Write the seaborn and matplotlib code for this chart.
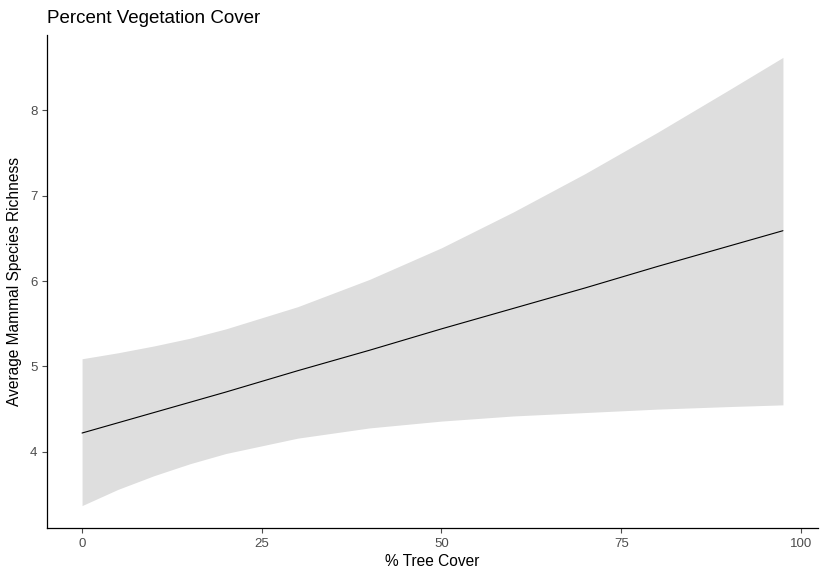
import numpy as np
import pandas as pd
import matplotlib
matplotlib.use("Agg")
import matplotlib.pyplot as plt
import seaborn as sns

# Fitted richness vs. tree cover with its confidence band
tree_cover = [0, 5, 10, 15, 20, 30, 40, 50, 60, 70, 80, 90, 97.5]
fit_richness = [4.22, 4.34, 4.46, 4.58, 4.70, 4.95, 5.19, 5.44, 5.68, 5.92, 6.17, 6.41, 6.59]
upper_ci = [5.09, 5.16, 5.24, 5.33, 5.44, 5.70, 6.02, 6.39, 6.81, 7.26, 7.74, 8.24, 8.62]
lower_ci = [3.37, 3.56, 3.72, 3.86, 3.98, 4.16, 4.28, 4.36, 4.42, 4.46, 4.50, 4.53, 4.55]

x_ticks = [0, 25, 50, 75, 100]
y_ticks = [4, 5, 6, 7, 8]

df = pd.DataFrame({"cover": tree_cover, "fit": fit_richness,
                   "lo": lower_ci, "hi": upper_ci})

sns.set_theme(style="ticks")
plt.rcParams["font.family"] = ["Liberation Sans", "DejaVu Sans"]

fig = plt.figure(figsize=(8.29, 5.71), dpi=100)
ax = fig.add_axes([0.0567, 0.0753, 0.930, 0.8634])

ax.fill_between(df["cover"], df["lo"], df["hi"], color="#DEDEDE", linewidth=0)
sns.lineplot(data=df, x="cover", y="fit", ax=ax, color="black", linewidth=0.8)

xmin, xmax = min(tree_cover), max(tree_cover)
ymin, ymax = min(lower_ci), max(upper_ci)
xpad = 0.05 * (xmax - xmin)
ypad = 0.05 * (ymax - ymin)
ax.set_xlim(xmin - xpad, xmax + xpad)
ax.set_ylim(ymin - ypad, ymax + ypad)

ax.set_xticks(x_ticks)
ax.set_yticks(y_ticks)
ax.tick_params(axis="both", colors="#4D4D4D", labelsize=9.5, length=3.5, width=0.8,
               labelcolor="#4D4D4D")

sns.despine(ax=ax)
for side in ("left", "bottom"):
    ax.spines[side].set_color("black")
    ax.spines[side].set_linewidth(0.9)

ax.set_xlabel("% Tree Cover", fontsize=11.2, color="black", labelpad=3)
ax.set_ylabel("Average Mammal Species Richness", fontsize=11.2, color="black", labelpad=6)
ax.set_title("Percent Vegetation Cover", fontsize=13.5, loc="left", color="black", pad=9)

fig.savefig("out.png", dpi=100)
